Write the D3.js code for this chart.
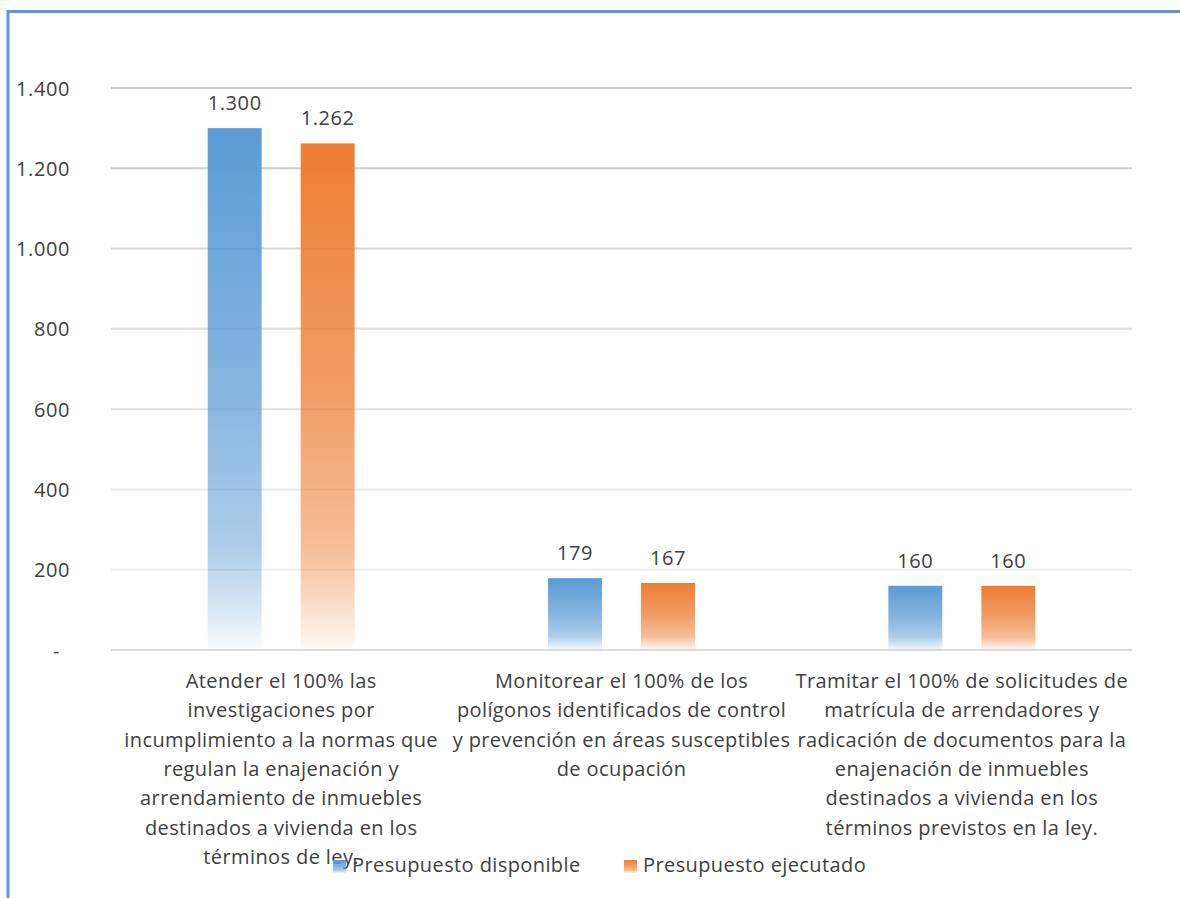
<!DOCTYPE html>
<html lang="es">
<head>
<meta charset="utf-8">
<script src="https://cdn.jsdelivr.net/npm/d3@7/dist/d3.min.js"></script>
<style>
  html, body { margin: 0; padding: 0; background: #ffffff; }
  svg { display: block; }
  text { font-family: "Open Sans", "Liberation Sans", sans-serif; fill: #404040; }
</style>
</head>
<body>
<svg id="chart" width="1180" height="898"></svg>
<script>
// Goals (category labels, one entry per wrapped line)
const categoryLines = [
  ["Atender el 100% las", "investigaciones por", "incumplimiento a la normas que",
   "regulan la enajenación y", "arrendamiento de inmuebles",
   "destinados a vivienda en los", "términos de ley."],
  ["Monitorear el 100% de los", "polígonos identificados de control",
   "y prevención en áreas susceptibles", "de ocupación"],
  ["Tramitar el 100% de solicitudes de", "matrícula de arrendadores y",
   "radicación de documentos para la", "enajenación de inmuebles",
   "destinados a vivienda en los", "términos previstos en la ley."]
];
const seriesNames = ["Presupuesto disponible", "Presupuesto ejecutado"];
const disponible = [1300, 179, 160];
const ejecutado = [1262, 167, 160];
const yTicks = [0, 200, 400, 600, 800, 1000, 1200, 1400];
const seriesColors = ["#5b9bd5", "#ed7d31"];

const svg = d3.select("#chart");
const W = 1180, H = 898;

// Number format with "." as thousands separator; zero shown as a dash
const locale = d3.formatLocale({ decimal: ",", thousands: ".", grouping: [3], currency: ["$", ""] });
const fmt = locale.format(",.0f");
const fmtTick = v => v === 0 ? "-" : fmt(v);

// Outer frame (left and top edges)
svg.append("path")
  .attr("d", `M8,${H} V11.5 H${W}`)
  .attr("fill", "none")
  .attr("stroke", "#5b9bd5")
  .attr("stroke-width", 3);

// Vertical fade gradients for the bars and legend swatches
const defs = svg.append("defs");
const fadeStops = [[0, 1], [0.5, 0.74], [0.8, 0.5], [0.93, 0.22], [1, 0.03]];
seriesColors.forEach((c, i) => {
  const g = defs.append("linearGradient")
    .attr("id", "fade" + i)
    .attr("x1", 0).attr("y1", 0).attr("x2", 0).attr("y2", 1);
  fadeStops.forEach(([o, a]) => {
    g.append("stop").attr("offset", o).attr("stop-color", c).attr("stop-opacity", a);
  });
});

const plot = { left: 111, right: 1132, top: 88, bottom: 650 };

const y = d3.scaleLinear().domain([0, 1400]).range([plot.bottom, plot.top]);
const x0 = d3.scaleBand().domain(d3.range(categoryLines.length)).range([plot.left, plot.right]);
const x1 = d3.scaleBand().domain(d3.range(seriesNames.length))
  .range([0, x0.bandwidth()]).paddingInner(0.42).paddingOuter(1.04);

// Gridlines, fading lighter toward the baseline
const gridColor = d3.scaleLinear().domain([200, 1400]).range(["#efefef", "#c8c8c8"]);
svg.append("g").selectAll("line")
  .data(yTicks.filter(t => t > 0))
  .join("line")
  .attr("x1", plot.left).attr("x2", plot.right)
  .attr("y1", d => y(d)).attr("y2", d => y(d))
  .attr("stroke", d => gridColor(d))
  .attr("stroke-width", 2);

// Baseline
svg.append("line")
  .attr("x1", plot.left).attr("x2", plot.right)
  .attr("y1", y(0)).attr("y2", y(0))
  .attr("stroke", "#dcdcdc").attr("stroke-width", 2);

// Y axis labels
const yAxis = d3.axisLeft(y).tickValues(yTicks).tickFormat(fmtTick).tickSize(0).tickPadding(0);
const yg = svg.append("g").attr("transform", "translate(70,0)").call(yAxis);
yg.select(".domain").remove();
yg.selectAll("text")
  .attr("font-size", 20)
  .attr("letter-spacing", 0.6)
  .attr("fill", "#404040")
  .attr("font-family", "\"Open Sans\", sans-serif")
  .attr("dy", "0.35em")
  .attr("x", d => d === 0 ? -10 : 0);

// Bars
const seriesValues = [disponible, ejecutado];
const barData = [];
categoryLines.forEach((_, ci) => {
  seriesValues.forEach((vals, si) => barData.push({ ci, si, v: vals[ci] }));
});

svg.append("g").selectAll("rect")
  .data(barData)
  .join("rect")
  .attr("x", d => x0(d.ci) + x1(d.si))
  .attr("width", x1.bandwidth())
  .attr("y", d => y(d.v))
  .attr("height", d => y(0) - y(d.v))
  .attr("fill", d => `url(#fade${d.si})`);

// Value labels
svg.append("g").selectAll("text")
  .data(barData)
  .join("text")
  .attr("x", d => x0(d.ci) + x1(d.si) + x1.bandwidth() / 2)
  .attr("y", d => y(d.v) - 18)
  .attr("text-anchor", "middle")
  .attr("font-size", 20)
  .attr("letter-spacing", 0.6)
  .text(d => fmt(d.v));

// Category labels
const catG = svg.append("g");
categoryLines.forEach((lines, ci) => {
  const t = catG.append("text")
    .attr("text-anchor", "middle")
    .attr("font-size", 20)
    .attr("letter-spacing", 0.4);
  lines.forEach((ln, li) => {
    t.append("tspan")
      .attr("x", x0(ci) + x0.bandwidth() / 2)
      .attr("y", 688 + li * 29.3)
      .text(ln);
  });
});

// Legend
const legendItems = [{ x: 333, name: seriesNames[0] }, { x: 624, name: seriesNames[1] }];
const lg = svg.append("g");
legendItems.forEach((it, i) => {
  lg.append("rect")
    .attr("x", it.x).attr("y", 860)
    .attr("width", 13).attr("height", 13)
    .attr("fill", `url(#fade${i})`);
  lg.append("text")
    .attr("x", it.x + 19).attr("y", 872)
    .attr("font-size", 20)
    .attr("letter-spacing", 0.4)
    .text(it.name);
});
</script>
</body>
</html>
